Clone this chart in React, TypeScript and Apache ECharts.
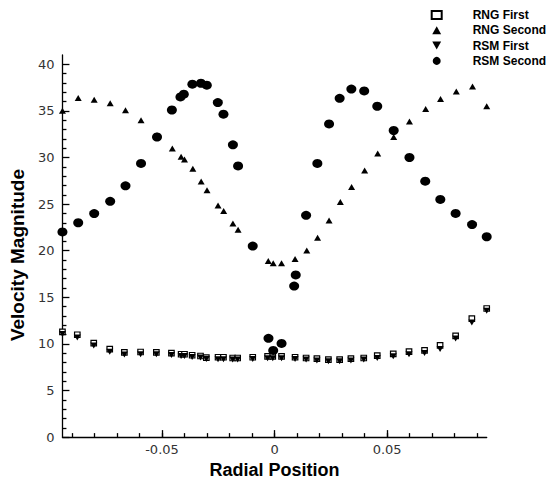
import React, { useEffect, useRef } from "react";
import * as echarts from "echarts";

// ---- data ----
const rngFirstX = [-0.0942, -0.0876, -0.0803, -0.0732, -0.0667, -0.0595, -0.0525, -0.0458, -0.0415, -0.04, -0.0366, -0.0329, -0.0303, -0.0251, -0.0227, -0.0186, -0.0164, -0.0097, -0.0031, -0.0008, 0.0031, 0.0091, 0.014, 0.0188, 0.0239, 0.0289, 0.0339, 0.0396, 0.0456, 0.0527, 0.0597, 0.0666, 0.0735, 0.0804, 0.0876, 0.0942];
const rngFirstY = [11.3, 10.98, 10.08, 9.45, 9.1, 9.13, 9.1, 9.02, 8.89, 8.89, 8.78, 8.7, 8.53, 8.57, 8.57, 8.49, 8.49, 8.57, 8.67, 8.67, 8.67, 8.57, 8.49, 8.43, 8.32, 8.32, 8.43, 8.49, 8.75, 8.92, 9.17, 9.31, 9.84, 10.87, 12.71, 13.8];

const rsmFirstX = rngFirstX;
const rsmFirstY = [11.05, 10.69, 9.84, 9.17, 8.85, 8.89, 8.89, 8.81, 8.7, 8.7, 8.6, 8.53, 8.39, 8.35, 8.35, 8.32, 8.32, 8.39, 8.46, 8.46, 8.46, 8.39, 8.32, 8.22, 8.14, 8.14, 8.22, 8.32, 8.49, 8.67, 8.89, 9.02, 9.45, 10.58, 12.31, 13.56];

const rngSecondX = [-0.0942, -0.0872, -0.0801, -0.073, -0.0662, -0.0593, -0.0522, -0.0454, -0.0415, -0.04, -0.0363, -0.0326, -0.03, -0.0251, -0.0226, -0.0185, -0.0162, -0.0097, -0.0028, -0.0006, 0.0031, 0.0091, 0.0143, 0.0191, 0.0242, 0.0292, 0.0342, 0.04, 0.0458, 0.0529, 0.0599, 0.0671, 0.0737, 0.0807, 0.0879, 0.0942];
const rngSecondY = [35.03, 36.38, 36.2, 35.82, 35.07, 34.01, 32.4, 30.97, 30.08, 29.8, 28.8, 27.43, 26.5, 24.84, 24.25, 22.93, 22.26, 20.6, 18.9, 18.65, 18.65, 19.1, 20.03, 21.4, 23.25, 25.23, 26.83, 28.6, 30.43, 32.2, 33.86, 35.2, 36.27, 37.09, 37.62, 35.5];

const rsmSecondX = [-0.0942, -0.0872, -0.0801, -0.073, -0.0662, -0.0593, -0.0522, -0.0456, -0.0418, -0.0403, -0.0365, -0.0327, -0.0301, -0.0252, -0.0227, -0.0185, -0.0162, -0.0097, -0.0027, -0.0006, 0.0031, 0.0087, 0.0094, 0.014, 0.019, 0.0242, 0.0289, 0.0341, 0.0398, 0.0456, 0.0529, 0.0599, 0.0669, 0.0736, 0.0804, 0.0877, 0.0942];
const rsmSecondY = [22.02, 23.0, 23.99, 25.3, 26.96, 29.37, 32.2, 35.1, 36.5, 36.8, 37.87, 37.97, 37.76, 35.9, 34.65, 31.36, 29.1, 20.5, 10.6, 9.3, 10.05, 16.2, 17.4, 23.8, 29.37, 33.6, 36.35, 37.34, 37.15, 35.5, 32.9, 30.0, 27.46, 25.5, 24.0, 22.8, 21.5];

const seriesNames = ["RNG First", "RNG Second", "RSM First", "RSM Second"];

const xMajorTicks = [-0.05, 0, 0.05];
const xMinorTicks = [-0.09, -0.08, -0.07, -0.06, -0.05, -0.04, -0.03, -0.02, -0.01, 0, 0.01, 0.02, 0.03, 0.04, 0.05, 0.06, 0.07, 0.08, 0.09];
const yMajorTicks = [0, 5, 10, 15, 20, 25, 30, 35, 40];
const yMinorTicks = [1, 2, 3, 4, 6, 7, 8, 9, 11, 12, 13, 14, 16, 17, 18, 19, 21, 22, 23, 24, 26, 27, 28, 29, 31, 32, 33, 34, 36, 37, 38, 39];

const X_MIN = -0.0942;
const X_MAX = 0.0942;
const Y_MIN = 0;
const Y_MAX = 41;

const pairs = (xs: number[], ys: number[]) => xs.map((x, i) => [x, ys[i]]);

export default function App() {
  const ref = useRef<HTMLDivElement>(null);
  useEffect(() => {
    if (!ref.current) return;
    const chart = echarts.init(ref.current, null, { renderer: "svg" });
    const axisLineStyle = { color: "#000", width: 1.3 };
    const tickLabel = { fontFamily: "DejaVu Sans", fontSize: 13, color: "#333" };
    const titleFont = { fontFamily: "Liberation Sans, Arial", fontWeight: "bold" as const, color: "#000" };
    chart.setOption({
      animation: false,
      backgroundColor: "#fff",
      grid: { left: 62, right: 67.3, top: 55, bottom: 42.3, containLabel: false },
      legend: {
        data: seriesNames,
        orient: "vertical",
        left: 430.7,
        top: 9,
        padding: 0,
        itemGap: 3.3,
        itemWidth: 10,
        itemHeight: 8,
        selectedMode: false,
        textStyle: {
          fontFamily: "Liberation Sans, Arial",
          fontWeight: "bold",
          fontSize: 12,
          color: "#000",
          lineHeight: 12,
          padding: [0, 0, 0, 26],
        },
      },
      xAxis: [
        {
          type: "value",
          min: X_MIN,
          max: X_MAX,
          position: "bottom",
          axisLine: { show: true, onZero: false, lineStyle: axisLineStyle },
          axisTick: { show: true, inside: true, length: 7, customValues: xMajorTicks, lineStyle: axisLineStyle },
          axisLabel: { show: true, customValues: xMajorTicks, margin: 6, ...tickLabel },
          splitLine: { show: false },
          name: "Radial Position",
          nameLocation: "middle",
          nameGap: 17,
          nameTextStyle: { ...titleFont, fontSize: 18 },
        },
        {
          type: "value",
          min: X_MIN,
          max: X_MAX,
          position: "bottom",
          axisLine: { show: false, onZero: false },
          axisTick: { show: true, inside: true, length: 4, customValues: xMinorTicks, lineStyle: axisLineStyle },
          axisLabel: { show: false },
          splitLine: { show: false },
        },
      ],
      yAxis: [
        {
          type: "value",
          min: Y_MIN,
          max: Y_MAX,
          position: "left",
          axisLine: { show: true, onZero: false, lineStyle: axisLineStyle },
          axisTick: { show: true, inside: true, length: 7, customValues: yMajorTicks, lineStyle: axisLineStyle },
          axisLabel: { show: true, customValues: yMajorTicks, margin: 8, ...tickLabel },
          splitLine: { show: false },
          name: "Velocity Magnitude",
          nameLocation: "middle",
          nameGap: 34,
          nameTextStyle: { ...titleFont, fontSize: 19, padding: [0, 18, 0, 0] },
        },
        {
          type: "value",
          min: Y_MIN,
          max: Y_MAX,
          position: "left",
          axisLine: { show: false, onZero: false },
          axisTick: { show: true, inside: true, length: 4, customValues: yMinorTicks, lineStyle: axisLineStyle },
          axisLabel: { show: false },
          splitLine: { show: false },
        },
      ],
      series: [
        {
          name: seriesNames[0],
          type: "scatter",
          z: 2,
          symbol: "rect",
          symbolSize: 5.5,
          itemStyle: { color: "#fff", borderColor: "#000", borderWidth: 1.2, opacity: 1 },
          data: pairs(rngFirstX, rngFirstY),
        },
        {
          name: seriesNames[1],
          type: "scatter",
          z: 3,
          symbol: "path://M5,0 L10,9 L0,9 Z",
          symbolSize: [7, 6],
          itemStyle: { color: "#000", opacity: 1 },
          data: pairs(rngSecondX, rngSecondY),
        },
        {
          name: seriesNames[2],
          type: "scatter",
          z: 3,
          symbol: "path://M0,0 L10,0 L5,9 Z",
          symbolSize: [7, 6],
          itemStyle: { color: "#000", opacity: 1 },
          data: pairs(rsmFirstX, rsmFirstY),
        },
        {
          name: seriesNames[3],
          type: "scatter",
          z: 4,
          symbol: "circle",
          symbolSize: [10, 9],
          itemStyle: { color: "#000", opacity: 1 },
          data: pairs(rsmSecondX, rsmSecondY),
        },
      ],
    });
    return () => chart.dispose();
  }, []);
  return (
    <div
      ref={ref}
      style={{ position: "fixed", left: 0, top: 0, width: 554, height: 484, background: "#fff" }}
    />
  );
}
